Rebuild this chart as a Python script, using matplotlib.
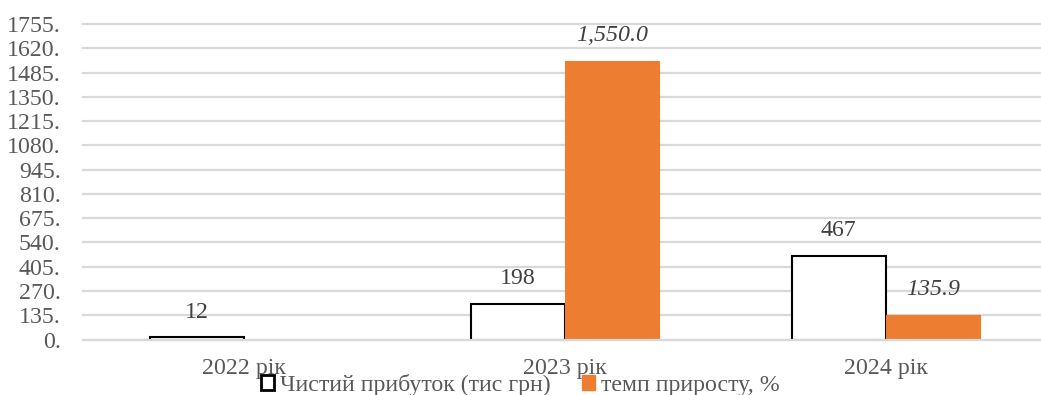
import matplotlib
matplotlib.use("Agg")
import matplotlib.pyplot as plt
import numpy as np
from matplotlib.patches import Patch

plt.rcParams['font.family'] = ['Liberation Serif', 'DejaVu Serif']

# Data
categories = ["2022 рік", "2023 рік", "2024 рік"]
net_profit = [12, 198, 467]
growth_rate = [np.nan, 1550.0, 135.9]
profit_labels = ["12", "198", "467"]
growth_labels = [None, "1,550.0", "135.9"]
series_names = ["Чистий прибуток (тис грн)", "темп приросту, %"]
y_ticks = list(range(0, 1756, 135))
y_tick_labels = [f"{t}." for t in y_ticks]

ORANGE = "#ED7D31"
GRID = "#D9D9D9"
AXIS_TXT = "#595959"
LABEL_TXT = "#404040"
FS = 17.2

W, H = 1041, 395
fig = plt.figure(figsize=(W / 100, H / 100), dpi=100)
left_px, right_px, top_px, bottom_px = 83, 1041, 24, 339.5
ax = fig.add_axes([left_px / W, 1 - bottom_px / H,
                   (right_px - left_px) / W, (bottom_px - top_px) / H])

x = np.arange(len(categories))
bw = 0.294
b1 = ax.bar(x - bw / 2, net_profit, width=bw, facecolor="white",
            edgecolor="black", linewidth=1.5, zorder=3)
b2 = ax.bar(x + bw / 2, growth_rate, width=bw, facecolor=ORANGE,
            edgecolor=ORANGE, linewidth=0.8, zorder=3)

for rect, txt in zip(b1, profit_labels):
    ax.annotate(txt, (rect.get_x() + rect.get_width() / 2, rect.get_height()),
                xytext=(0, 10.5), textcoords="offset points", ha="center",
                va="bottom", fontsize=FS, color=LABEL_TXT, zorder=5)
for rect, txt in zip(b2, growth_labels):
    if txt is None:
        continue
    ax.annotate(txt, (rect.get_x() + rect.get_width() / 2, rect.get_height()),
                xytext=(0, 10.5), textcoords="offset points", ha="center",
                va="bottom", fontsize=FS, color=LABEL_TXT, style="italic",
                zorder=5)

ax.set_ylim(0, 1755)
ax.set_xlim(-0.5016, 2.483)
ax.set_yticks(y_ticks)
ax.set_yticklabels(y_tick_labels)
ax.set_xticks(x)
ax.set_xticklabels(categories)
ax.tick_params(axis="y", length=0, pad=16, labelsize=FS, labelcolor=AXIS_TXT)
ax.tick_params(axis="x", length=0, pad=13, labelsize=FS, labelcolor=AXIS_TXT)

ax.yaxis.grid(True, color=GRID, linewidth=1.6, zorder=1)
ax.set_axisbelow(True)
for ln in ax.get_ygridlines():
    ln.set_clip_on(False)
# zero line drawn over the bar bottoms
ax.axhline(0, color=GRID, linewidth=1.6, zorder=4, clip_on=False)
for s in ax.spines.values():
    s.set_visible(False)

handles = [Patch(facecolor="white", edgecolor="black", linewidth=2.0),
           Patch(facecolor=ORANGE, edgecolor=ORANGE)]
leg = fig.legend(handles, series_names, loc="center",
                 bbox_to_anchor=(0.5, 1 - 385 / H), ncol=2, frameon=False,
                 fontsize=FS, handlelength=0.55, handleheight=0.55,
                 handletextpad=0.25, columnspacing=1.3, borderpad=0,
                 borderaxespad=0)
for t in leg.get_texts():
    t.set_color(AXIS_TXT)

fig.savefig("out.png", dpi=100)
